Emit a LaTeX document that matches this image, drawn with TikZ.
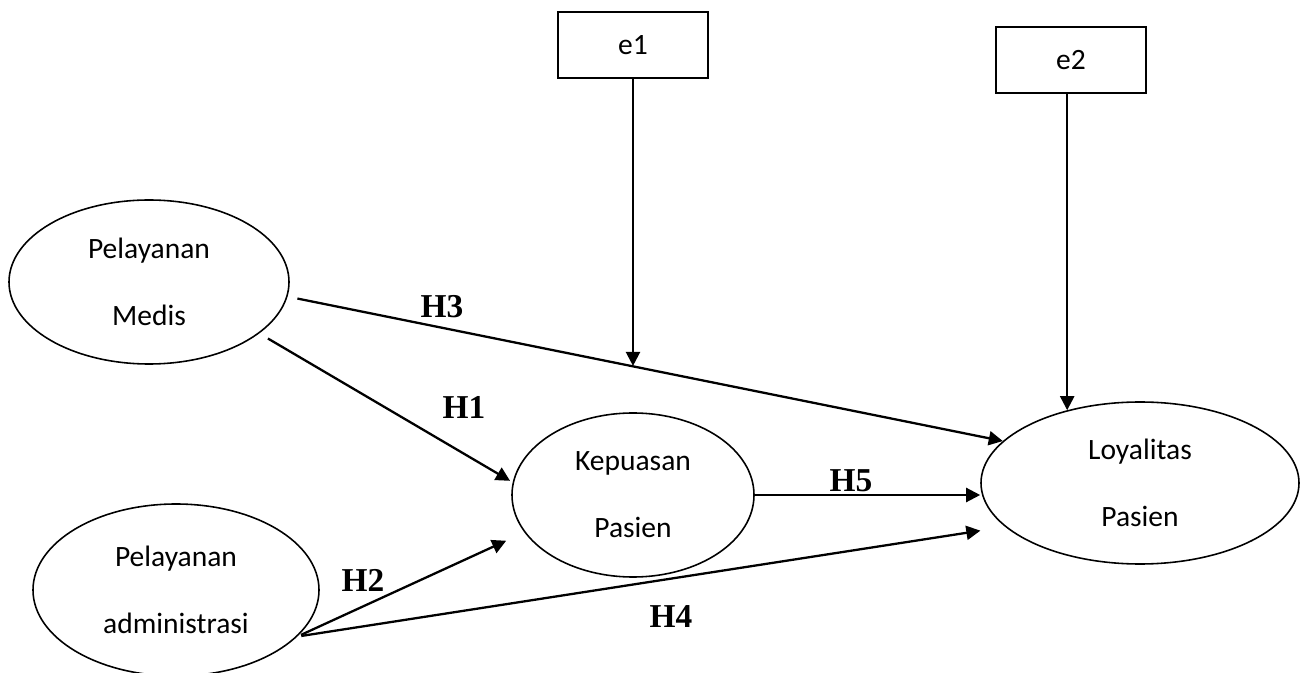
\documentclass[tikz,border=0pt]{standalone}
\usepackage{fontspec}
\setmainfont{Carlito}
\newfontfamily\hypfont{Liberation Serif}
\usepackage{tikz}
\usetikzlibrary{arrows.meta,positioning,shapes.geometric}

\begin{document}
\begin{tikzpicture}
        \tikzstyle{latent} = [ellipse, draw, line width = 0.9pt, align = center, inner sep = 0pt, font = \fontsize{16.8}{18}\selectfont]
        \tikzstyle{errorbox} = [rectangle, draw, line width = 0.9pt, minimum width = 3cm, minimum height = 1.32cm, font = \fontsize{16.8}{18}\selectfont]
        \tikzstyle{path} = [line width = 1.3pt, -{Triangle[length=8pt, width=8pt]}]
        \tikzstyle{hyp} = [font = \hypfont\bfseries\fontsize{19}{22}\selectfont]
        \useasboundingbox (0,0) rectangle (26.14,-13.46);
        \node at (2.98,-5.64) (medis) [latent, minimum width = 5.6cm, minimum height = 3.28cm] {Pelayanan \\[20pt] Medis};
        \node at (3.52,-11.8) (admin) [latent, minimum width = 5.72cm, minimum height = 3.44cm] {Pelayanan \\[20pt] administrasi};
        \node at (12.66,-9.9) (kepuasan) [latent, minimum width = 4.84cm, minimum height = 3.28cm] {Kepuasan \\[20pt] Pasien};
        \node at (22.8,-9.66) (loyalitas) [latent, minimum width = 6.36cm, minimum height = 3.24cm] {Loyalitas \\[20pt] Pasien};
        \node at (12.66,-0.9) (e1) [errorbox] {e1};
        \node at (21.42,-1.2) (e2) [errorbox] {e2};
        % paths between the constructs
        \draw [path, shorten <= 0.2cm] (medis.-6) -- coordinate[pos=0.48] (h3mid) (loyalitas.163);
        \draw [path, shorten <= 0.2cm, shorten >= 0.06cm] (medis.-25) -- (kepuasan.174);
        \draw [path, shorten <= 0.08cm, shorten >= 0.4cm] (admin.-21) -- (kepuasan.-161);
        \draw [path, shorten <= 0.08cm, shorten >= 0.5cm] (admin.-21) -- (loyalitas.-162);
        \draw [path] (kepuasan.east) -- (kepuasan.east -| loyalitas.west);
        % error terms
        \draw [path] (e1.south) -- (e1.south |- h3mid);
        \draw [path] (loyalitas.135 |- e2.south) -- (loyalitas.135);
        % labels
        \node at (8.84,-6.14) (h3) [hyp] {H3};
        \node at (9.28,-8.14) (h1) [hyp] {H1};
        \node at (7.26,-11.6) (h2) [hyp] {H2};
        \node at (13.42,-12.34) (h4) [hyp] {H4};
        \node at (17.02,-9.62) (h5) [hyp] {H5};
    \end{tikzpicture}
\end{document}
